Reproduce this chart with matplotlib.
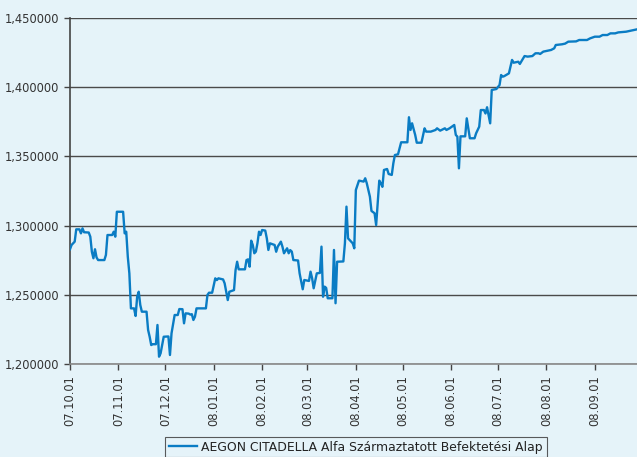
import matplotlib
matplotlib.use("Agg")
import matplotlib.pyplot as plt
import matplotlib.dates as mdates
import matplotlib.ticker as mticker
import pandas as pd

# arfolyam adatok (leolvasva)
dates = [
    "2007-10-01", "2007-10-02", "2007-10-04", "2007-10-05", "2007-10-07", "2007-10-08",
    "2007-10-09", "2007-10-10", "2007-10-13", "2007-10-14", "2007-10-15", "2007-10-16",
    "2007-10-17", "2007-10-18", "2007-10-19", "2007-10-23", "2007-10-24", "2007-10-25",
    "2007-10-28", "2007-10-29", "2007-10-30", "2007-10-31", "2007-11-04", "2007-11-05",
    "2007-11-06", "2007-11-07", "2007-11-08", "2007-11-09", "2007-11-11", "2007-11-12",
    "2007-11-13", "2007-11-14", "2007-11-15", "2007-11-16", "2007-11-19", "2007-11-20",
    "2007-11-21", "2007-11-22", "2007-11-23", "2007-11-25", "2007-11-26", "2007-11-27",
    "2007-11-28", "2007-11-30", "2007-12-03", "2007-12-04", "2007-12-05", "2007-12-07",
    "2007-12-09", "2007-12-10", "2007-12-12", "2007-12-13", "2007-12-14", "2007-12-16",
    "2007-12-17", "2007-12-18", "2007-12-19", "2007-12-20", "2007-12-21", "2007-12-27",
    "2007-12-28", "2007-12-29", "2007-12-31", "2008-01-02", "2008-01-03", "2008-01-04",
    "2008-01-07", "2008-01-08", "2008-01-10", "2008-01-11", "2008-01-14", "2008-01-15",
    "2008-01-16", "2008-01-17", "2008-01-21", "2008-01-22", "2008-01-23", "2008-01-24",
    "2008-01-25", "2008-01-26", "2008-01-27", "2008-01-28", "2008-01-29", "2008-01-30",
    "2008-01-31", "2008-02-01", "2008-02-03", "2008-02-04", "2008-02-05", "2008-02-06",
    "2008-02-09", "2008-02-10", "2008-02-11", "2008-02-13", "2008-02-14", "2008-02-15",
    "2008-02-17", "2008-02-18", "2008-02-19", "2008-02-20", "2008-02-21", "2008-02-24",
    "2008-02-25", "2008-02-27", "2008-02-28", "2008-03-02", "2008-03-03", "2008-03-04",
    "2008-03-05", "2008-03-07", "2008-03-09", "2008-03-10", "2008-03-11", "2008-03-12",
    "2008-03-13", "2008-03-14", "2008-03-17", "2008-03-18", "2008-03-19", "2008-03-20",
    "2008-03-24", "2008-03-25", "2008-03-26", "2008-03-27", "2008-03-30", "2008-03-31",
    "2008-04-01", "2008-04-03", "2008-04-06", "2008-04-07", "2008-04-08", "2008-04-10",
    "2008-04-11", "2008-04-13", "2008-04-14", "2008-04-16", "2008-04-17", "2008-04-18",
    "2008-04-19", "2008-04-21", "2008-04-22", "2008-04-24", "2008-04-25", "2008-04-26",
    "2008-04-28", "2008-04-30", "2008-05-04", "2008-05-05", "2008-05-06", "2008-05-07",
    "2008-05-09", "2008-05-10", "2008-05-13", "2008-05-15", "2008-05-16", "2008-05-19",
    "2008-05-22", "2008-05-23", "2008-05-25", "2008-05-28", "2008-05-29", "2008-05-31",
    "2008-06-03", "2008-06-04", "2008-06-05", "2008-06-06", "2008-06-07", "2008-06-10",
    "2008-06-11", "2008-06-12", "2008-06-13", "2008-06-16", "2008-06-17", "2008-06-19",
    "2008-06-20", "2008-06-22", "2008-06-23", "2008-06-24", "2008-06-26", "2008-06-27",
    "2008-06-30", "2008-07-02", "2008-07-03", "2008-07-04", "2008-07-05", "2008-07-08",
    "2008-07-09", "2008-07-10", "2008-07-11", "2008-07-14", "2008-07-15", "2008-07-18",
    "2008-07-20", "2008-07-23", "2008-07-25", "2008-07-27", "2008-07-28", "2008-07-30",
    "2008-08-01", "2008-08-04", "2008-08-06", "2008-08-07", "2008-08-11", "2008-08-13",
    "2008-08-15", "2008-08-20", "2008-08-22", "2008-08-27", "2008-08-29", "2008-09-01",
    "2008-09-04", "2008-09-06", "2008-09-09", "2008-09-11", "2008-09-14", "2008-09-16",
    "2008-09-21", "2008-09-24", "2008-09-28",
]
values = [
    1.2829, 1.2860, 1.2884, 1.2973, 1.2973, 1.2944,
    1.2980, 1.2952, 1.2950, 1.2920, 1.2811, 1.2764,
    1.2829, 1.2770, 1.2751, 1.2751, 1.2788, 1.2932,
    1.2932, 1.2956, 1.2920, 1.3100, 1.3100, 1.2944,
    1.2956, 1.2775, 1.2655, 1.2402, 1.2402, 1.2347,
    1.2486, 1.2522, 1.2426, 1.2378, 1.2378, 1.2246,
    1.2197, 1.2137, 1.2143, 1.2143, 1.2282, 1.2053,
    1.2077, 1.2197, 1.2199, 1.2065, 1.2222, 1.2354,
    1.2354, 1.2397, 1.2396, 1.2294, 1.2366, 1.2364,
    1.2357, 1.2360, 1.2318, 1.2342, 1.2402, 1.2402,
    1.2499, 1.2515, 1.2515, 1.2619, 1.2606, 1.2619,
    1.2611, 1.2583, 1.2462, 1.2522, 1.2534, 1.2679,
    1.2739, 1.2684, 1.2684, 1.2751, 1.2756, 1.2703,
    1.2891, 1.2860, 1.2800, 1.2812, 1.2872, 1.2956,
    1.2932, 1.2968, 1.2964, 1.2908, 1.2824, 1.2872,
    1.2860, 1.2811, 1.2848, 1.2884, 1.2848, 1.2800,
    1.2836, 1.2800, 1.2823, 1.2812, 1.2751, 1.2748,
    1.2655, 1.2540, 1.2607, 1.2600, 1.2667, 1.2620,
    1.2547, 1.2655, 1.2658, 1.2848, 1.2486, 1.2559,
    1.2550, 1.2475, 1.2475, 1.2824, 1.2439, 1.2739,
    1.2741, 1.2872, 1.3137, 1.2908, 1.2872, 1.2836,
    1.3257, 1.3325, 1.3318, 1.3342, 1.3306, 1.3209,
    1.3106, 1.3089, 1.3004, 1.3325, 1.3306, 1.3280,
    1.3402, 1.3409, 1.3373, 1.3366, 1.3450, 1.3510,
    1.3515, 1.3602, 1.3602, 1.3783, 1.3691, 1.3739,
    1.3655, 1.3599, 1.3599, 1.3703, 1.3679, 1.3679,
    1.3691, 1.3703, 1.3686, 1.3703, 1.3691, 1.3703,
    1.3727, 1.3655, 1.3643, 1.3414, 1.3645, 1.3645,
    1.3775, 1.3703, 1.3631, 1.3631, 1.3667, 1.3715,
    1.3835, 1.3835, 1.3810, 1.3855, 1.3739, 1.3980,
    1.3987, 1.4016, 1.4088, 1.4076, 1.4080, 1.4100,
    1.4148, 1.4197, 1.4177, 1.4184, 1.4168, 1.4225,
    1.4221, 1.4225, 1.4245, 1.4245, 1.4240, 1.4257,
    1.4262, 1.4269, 1.4281, 1.4305, 1.4310, 1.4315,
    1.4329, 1.4331, 1.4341, 1.4341, 1.4353, 1.4365,
    1.4365, 1.4377, 1.4377, 1.4389, 1.4389, 1.4396,
    1.4401, 1.4408, 1.4418,
]
series_name = "AEGON CITADELLA Alfa Származtatott Befektetési Alap"
y_ticks = [1.20, 1.25, 1.30, 1.35, 1.40, 1.45]

bg = "#e5f3f9"
txt = "#333333"

x = pd.to_datetime(dates)

plt.rcParams["font.family"] = "DejaVu Sans"
plt.rcParams["font.size"] = 8.3

fig = plt.figure(figsize=(6.37, 4.57), dpi=100, facecolor=bg)
ax = fig.add_axes([70 / 637, 1 - 364 / 457, 1 - 70 / 637, (364 - 18) / 457])
ax.set_facecolor(bg)

ax.plot(x, values, color="#0a7cc4", linewidth=1.7, label=series_name, zorder=3)

ax.set_ylim(1.20, 1.45)
ax.set_yticks(y_ticks)
ax.yaxis.set_major_formatter(
    mticker.FuncFormatter(lambda v, p: f"{v:.6f}".replace(".", ",")))
ax.set_xlim(pd.Timestamp("2007-10-01"), pd.Timestamp("2008-09-28"))
ax.xaxis.set_major_locator(mdates.MonthLocator())
ax.xaxis.set_major_formatter(mdates.DateFormatter("%y.%m.%d"))
plt.setp(ax.get_xticklabels(), rotation=90)

ax.grid(axis="y", color="#4a4a4a", linewidth=1.0, zorder=1)
ax.grid(axis="x", visible=False)
for s in ["top", "right"]:
    ax.spines[s].set_visible(False)
ax.spines["left"].set_color("#444444")
ax.spines["left"].set_linewidth(1.2)
ax.spines["bottom"].set_color("#888888")
ax.spines["bottom"].set_linewidth(1.2)
ax.tick_params(axis="both", colors="#444444", labelcolor=txt, length=4, width=1)
ax.tick_params(axis="x", pad=4)

leg = fig.legend(loc="upper center", bbox_to_anchor=(0.559, 1 - 437 / 457),
                 borderaxespad=0, frameon=True, fancybox=False, facecolor=bg,
                 edgecolor="#333333", fontsize=8.9, handlelength=2.25,
                 borderpad=0.3, handletextpad=0.35)
leg.get_frame().set_linewidth(0.8)
for t in leg.get_texts():
    t.set_color("#222222")

fig.savefig("out.png", dpi=100, facecolor=bg)
